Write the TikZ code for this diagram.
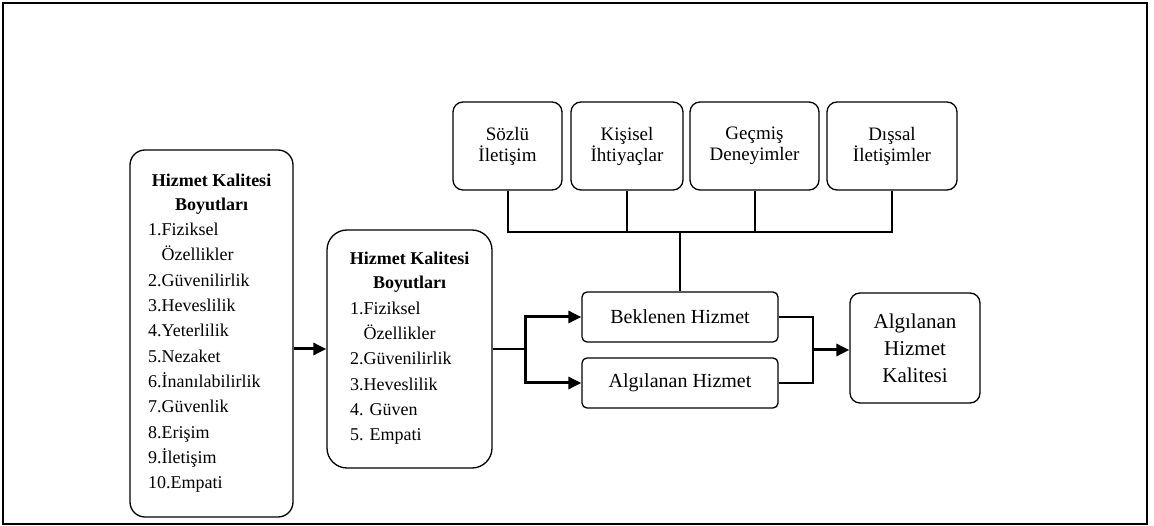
\documentclass[tikz,border=0pt]{standalone}
\usepackage{fontspec}
\setmainfont{Liberation Serif}
\usetikzlibrary{arrows.meta}
\begin{document}
\begin{tikzpicture}[x=1pt,y=-1pt,
  box/.style={draw=black, line width=1.3pt, rounded corners=#1, inner sep=0pt, align=center},
  ttl/.style={font=\fontsize{18}{24}\selectfont\bfseries, align=center, inner sep=0pt},
  lst/.style={font=\fontsize{18}{25.3}\selectfont, align=left, inner sep=0pt},
  ln/.style={draw=black, line width=2pt},
  thk/.style={draw=black, line width=3pt},
  arr/.style={draw=black, line width=3pt, -{Triangle[length=13pt,width=12pt]}}]
\useasboundingbox (0,0) rectangle (1154,526);
\draw[line width=2pt] (3,3) rectangle (1147,524);

% left box
\node[box=15pt, minimum width=163pt, minimum height=367pt] (L) at (211.5,333.5) {};
\node[ttl, anchor=north] (Lt) at (211.5,173.5) {Hizmet Kalitesi\\Boyutları};
\node[lst, anchor=north west] (Ll) at (148,223) {1.Fiziksel\\\phantom{1.}Özellikler\\2.Güvenilirlik\\3.Heveslilik\\4.Yeterlilik\\5.Nezaket\\6.İnanılabilirlik\\7.Güvenlik\\8.Erişim\\9.İletişim\\10.Empati};

% middle box
\node[box=20pt, minimum width=165pt, minimum height=238pt] (M) at (409.5,349) {};
\node[ttl, anchor=north] (Mt) at (409.5,251.5) {Hizmet Kalitesi\\Boyutları};
\node[lst, anchor=north west] (Ml) at (350,301.5) {1.Fiziksel\\\phantom{1.}Özellikler\\2.Güvenilirlik\\3.Heveslilik\\4. Güven\\5. Empati};

% top boxes
\tikzset{tb/.style={box=10pt, minimum height=88pt, font=\fontsize{19}{21}\selectfont}}
\node[tb, minimum width=109pt] (T1) at (507.5,146) {Sözlü\\İletişim};
\node[tb, minimum width=112pt] (T2) at (627,146) {Kişisel\\İhtiyaçlar};
\node[tb, minimum width=129pt] (T3) at (754.5,146) {Geçmiş\\Deneyimler};
\node[tb, minimum width=130pt] (T4) at (892,146) {Dışsal\\İletişimler};

% service boxes
\node[box=5pt, minimum width=196pt, minimum height=50pt, font=\fontsize{20}{22}\selectfont] (B) at (680,317) {Beklenen Hizmet};
\node[box=5pt, minimum width=196pt, minimum height=50pt, font=\fontsize{20}{22}\selectfont] (A) at (680,383) {Algılanan Hizmet};
\node[box=10pt, minimum width=130pt, minimum height=110pt, font=\fontsize{21}{27}\selectfont] (F) at (915,348) {Algılanan\\Hizmet\\Kalitesi};

% top connectors
\draw[ln] (T1.south) -- (T1.south |- 0,232) -- (T4.south |- 0,232) -- (T4.south);
\draw[ln] (T2.south) -- (T2.south |- 0,232);
\draw[ln] (T3.south) -- (T3.south |- 0,232);
\draw[ln] (B.north) -- (B.north |- 0,232);

% left arrow
\draw[arr] (L.east |- M.west) -- (M.west);

% split
\coordinate (j1) at (525,349);
\draw[ln] (M.east) -- (j1);
\draw[arr] (j1) |- (B.west);
\draw[arr] (j1) |- (A.west);

% merge
\coordinate (j2) at (813,350);
\draw[ln, line width=2.5pt] (B.east) -- (B.east -| j2) -- (A.east -| j2) -- (A.east);
\draw[arr] (j2) -- (F.west |- j2);
\end{tikzpicture}
\end{document}
